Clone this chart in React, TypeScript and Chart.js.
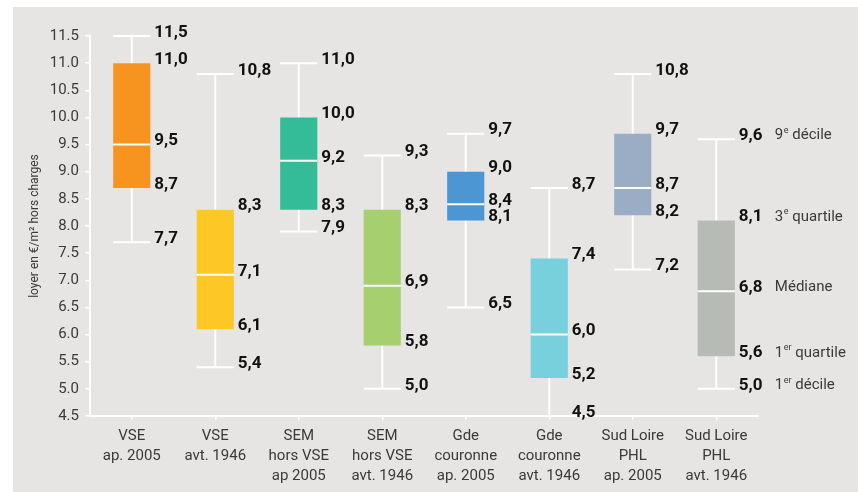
import React, { useEffect, useRef } from "react";
import { Chart, registerables } from "chart.js";

Chart.register(...registerables);

const categories: string[][] = [
  ["VSE", "ap. 2005"],
  ["VSE", "avt. 1946"],
  ["SEM", "hors VSE", "ap 2005"],
  ["SEM", "hors VSE", "avt. 1946"],
  ["Gde", "couronne", "ap. 2005"],
  ["Gde", "couronne", "avt. 1946"],
  ["Sud Loire", "PHL", "ap. 2005"],
  ["Sud Loire", "PHL", "avt. 1946"],
];

const decile1 = [7.7, 5.4, 7.9, 5.0, 6.5, 4.5, 7.2, 5.0];
const quartile1 = [8.7, 6.1, 8.3, 5.8, 8.1, 5.2, 8.2, 5.6];
const median = [9.5, 7.1, 9.2, 6.9, 8.4, 6.0, 8.7, 6.8];
const quartile3 = [11.0, 8.3, 10.0, 8.3, 9.0, 7.4, 9.7, 8.1];
const decile9 = [11.5, 10.8, 11.0, 9.3, 9.7, 8.7, 10.8, 9.6];

const boxColors = [
  "#F7941F",
  "#FDC826",
  "#34BC98",
  "#A6D06F",
  "#4C97D3",
  "#79D0DD",
  "#9BADC4",
  "#B6BBB5",
];

const yMin = 4.5;
const yMax = 11.5;
const yStep = 0.5;
const yTitle = "loyer en €/m² hors charges";

// legend entries: [base, superscript, rest]
const legendDecile9 = ["9", "e", " décile"];
const legendQuartile3 = ["3", "e", " quartile"];
const legendMedian = ["Médiane", "", ""];
const legendQuartile1 = ["1", "er", " quartile"];
const legendDecile1 = ["1", "er", " décile"];

const BG = "#E6E5E4";
const TEXT_GREY = "#3a3a3a";
const FONT = "Roboto, 'Noto Sans', sans-serif";

const fmt = (v: number) => v.toFixed(1).replace(".", ",");

const boxPlugin = {
  id: "boxExtras",
  beforeDraw(chart: any) {
    const { ctx, width, height } = chart;
    ctx.save();
    ctx.fillStyle = BG;
    ctx.fillRect(0, 0, width, height);
    ctx.restore();
  },
  beforeDatasetsDraw(chart: any) {
    const { ctx } = chart;
    const y = chart.scales.y;
    const meta = chart.getDatasetMeta(0);
    ctx.save();
    ctx.strokeStyle = "#ffffff";
    ctx.lineWidth = 2;
    meta.data.forEach((bar: any, i: number) => {
      const { x, width } = bar.getProps(["x", "width"], true);
      const yTop = y.getPixelForValue(decile9[i]);
      const yBot = y.getPixelForValue(decile1[i]);
      ctx.beginPath();
      ctx.moveTo(x, yTop);
      ctx.lineTo(x, yBot);
      ctx.moveTo(x - width / 2, yTop);
      ctx.lineTo(x + width / 2, yTop);
      ctx.moveTo(x - width / 2, yBot);
      ctx.lineTo(x + width / 2, yBot);
      ctx.stroke();
    });
    ctx.restore();
  },
  afterDatasetsDraw(chart: any) {
    const { ctx } = chart;
    const y = chart.scales.y;
    const meta = chart.getDatasetMeta(0);
    ctx.save();
    // medians
    ctx.strokeStyle = "#ffffff";
    ctx.lineWidth = 2;
    meta.data.forEach((bar: any, i: number) => {
      const { x, width } = bar.getProps(["x", "width"], true);
      const ym = y.getPixelForValue(median[i]);
      ctx.beginPath();
      ctx.moveTo(x - width / 2, ym);
      ctx.lineTo(x + width / 2, ym);
      ctx.stroke();
    });
    // value labels
    ctx.fillStyle = "#111111";
    ctx.font = `bold 17px ${FONT}`;
    ctx.textAlign = "left";
    ctx.textBaseline = "middle";
    const series = [decile9, quartile3, median, quartile1, decile1];
    meta.data.forEach((bar: any, i: number) => {
      const { x, width } = bar.getProps(["x", "width"], true);
      const lx = x + width / 2 + 4;
      series.forEach((s) => {
        ctx.fillText(fmt(s[i]), lx, y.getPixelForValue(s[i]) - 3.5);
      });
    });
    // legend on the right of the last box
    const last = meta.data.length - 1;
    const lb = meta.data[last].getProps(["x", "width"], true);
    const legX = lb.x + lb.width / 2 + 40;
    const legends = [legendDecile9, legendQuartile3, legendMedian, legendQuartile1, legendDecile1];
    ctx.fillStyle = TEXT_GREY;
    legends.forEach((lg, k) => {
      const yy = y.getPixelForValue(series[k][last]) - 3.5;
      let cx = legX;
      ctx.font = `15px ${FONT}`;
      ctx.textBaseline = "middle";
      ctx.fillText(lg[0], cx, yy);
      cx += ctx.measureText(lg[0]).width;
      if (lg[1]) {
        ctx.font = `9px ${FONT}`;
        ctx.fillText(lg[1], cx + 0.5, yy - 5);
        cx += ctx.measureText(lg[1]).width + 0.5;
      }
      if (lg[2]) {
        ctx.font = `15px ${FONT}`;
        ctx.fillText(lg[2], cx, yy);
      }
    });
    ctx.restore();
  },
};

export default function App() {
  const canvasRef = useRef<HTMLCanvasElement | null>(null);

  useEffect(() => {
    const canvas = canvasRef.current;
    if (!canvas) return;
    const chart = new Chart(canvas, {
      type: "bar",
      data: {
        labels: categories,
        datasets: [
          {
            data: quartile1.map((q, i) => [q, quartile3[i]]) as any,
            backgroundColor: boxColors,
            borderWidth: 0,
            categoryPercentage: 1,
            barPercentage: 0.445,
          },
        ],
      },
      options: {
        animation: false,
        responsive: false,
        devicePixelRatio: 1,
        layout: { padding: { top: 29, right: 100, left: 0, bottom: 0 } },
        plugins: {
          legend: { display: false },
          tooltip: { enabled: false },
        },
        scales: {
          x: {
            offset: true,
            grid: {
              drawOnChartArea: false,
              color: "#ffffff",
              tickLength: 4,
              lineWidth: 1.5,
              offset: false,
            },
            border: { color: "#ffffff", width: 2 },
            ticks: {
              color: TEXT_GREY,
              font: { family: FONT, size: 15, lineHeight: 1.33 },
              padding: 6,
              maxRotation: 0,
              autoSkip: false,
            },
            afterFit: (s: any) => {
              s.height = 76;
            },
          },
          y: {
            min: yMin,
            max: yMax,
            grid: {
              drawOnChartArea: false,
              color: "#ffffff",
              tickLength: 5,
              lineWidth: 1.5,
            },
            border: { color: "#ffffff", width: 2 },
            ticks: {
              stepSize: yStep,
              color: TEXT_GREY,
              font: { family: FONT, size: 15 },
              padding: 6,
              callback: (v: any) => Number(v).toFixed(1),
            },
            title: {
              display: true,
              text: yTitle,
              color: TEXT_GREY,
              font: { family: FONT, size: 12, lineHeight: 1.2 },
              padding: { top: 15, bottom: 0 },
            },
            afterFit: (s: any) => {
              s.width = 77;
            },
          },
        },
      },
      plugins: [boxPlugin],
    });
    return () => chart.destroy();
  }, []);

  return (
    <div
      style={{
        position: "fixed",
        left: 0,
        top: 0,
        width: 858,
        height: 492,
        background: "#ffffff",
        overflow: "hidden",
      }}
    >
      <canvas
        ref={canvasRef}
        width={845}
        height={485}
        style={{ position: "absolute", left: 13, top: 7, width: 845, height: 485 }}
      />
    </div>
  );
}
